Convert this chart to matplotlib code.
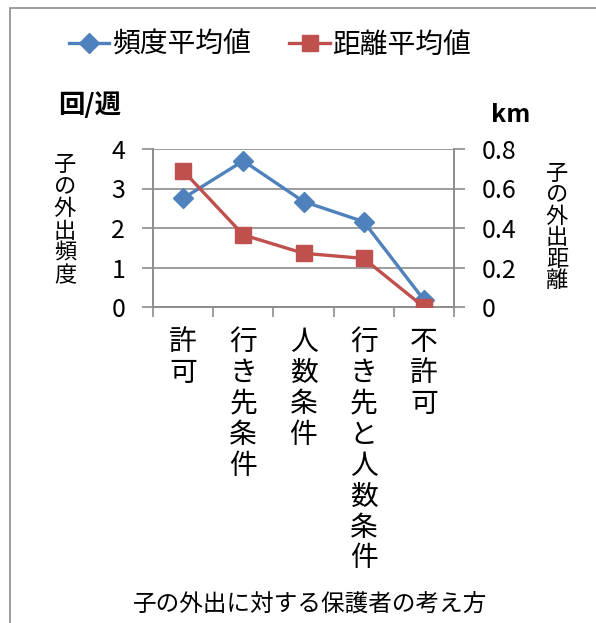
import numpy as np
import matplotlib.pyplot as plt
from matplotlib.patches import Rectangle
import matplotlib.transforms as mtransforms

plt.rcParams['font.family'] = ['Noto Sans CJK JP', 'DejaVu Sans']

# 保護者の考え方ごとの平均値
categories = ['許可', '行き先条件', '人数条件', '行き先と人数条件', '不許可']
freq_mean = [2.75, 3.70, 2.67, 2.16, 0.18]      # 回/週
dist_mean = [0.69, 0.365, 0.272, 0.246, 0.0]    # km

BLUE = '#4F81BD'
RED = '#C0504D'
GRID = '#8C8C8C'

fig = plt.figure(figsize=(5.96, 6.23), dpi=100)
fig.patches.append(Rectangle((10 / 596, -0.1), 1.2, 1 - 8 / 623 + 0.1,
                             transform=fig.transFigure, fill=False,
                             edgecolor='#8C8C8C', linewidth=1.2))

ax = fig.add_axes([153 / 596, 1 - 307 / 623, 301 / 596, 158 / 623])
ax2 = ax.twinx()

x = np.arange(len(categories))
l1, = ax.plot(x, freq_mean, color=BLUE, lw=2.4, marker='D', ms=10,
              label='頻度平均値', zorder=3)
l2, = ax2.plot(x, dist_mean, color=RED, lw=2.4, marker='s', ms=11,
               label='距離平均値', zorder=3)

ax.set_xlim(-0.5, len(categories) - 0.5)
ax.set_ylim(0, 4)
ax2.set_ylim(0, 0.8)
ax.set_yticks([0, 1, 2, 3, 4])
ax2.set_yticks([0, 0.2, 0.4, 0.6, 0.8])
ax2.set_yticklabels(['0', '0.2', '0.4', '0.6', '0.8'])
ax.set_xticks(np.arange(-0.5, len(categories)))
ax.set_xticklabels([])
ax.yaxis.grid(True, color=GRID, lw=1.2)
ax.set_axisbelow(True)

for a in (ax, ax2):
    for s in a.spines.values():
        s.set_color(GRID)
        s.set_linewidth(1.2)
    a.spines['top'].set_visible(False)
    a.tick_params(direction='out', length=8, width=1.2, color=GRID,
                  labelsize=18, pad=12)
ax.tick_params(axis='x', length=7)

# 縦書きのカテゴリ名
trans = mtransforms.blended_transform_factory(ax.transData, fig.transFigure)
for xi, name in zip(x, categories):
    ax.text(xi, 1 - 327 / 623, '\n'.join(name), transform=trans,
            ha='center', va='top', fontsize=20, linespacing=1.04)

fig.text(58 / 596, 1 - 106 / 623, '回/週', fontsize=19, fontweight='bold',
         va='center', ha='left')
fig.text(511 / 596, 1 - 115 / 623, 'km', fontsize=18, fontweight='bold',
         va='center', ha='center')
fig.text(65 / 596, 1 - 220 / 623, '\n'.join('子の外出頻度'), fontsize=16,
         ha='center', va='center', linespacing=0.95)
fig.text(557 / 596, 1 - 227 / 623, '\n'.join('子の外出距離'), fontsize=16,
         ha='center', va='center', linespacing=0.92)
fig.text(310 / 596, 1 - 604 / 623, '子の外出に対する保護者の考え方',
         fontsize=17, ha='center', va='center')

fig.legend(handles=[l1, l2], loc='center', bbox_to_anchor=(270 / 596, 1 - 45 / 623),
           ncol=2, frameon=False, fontsize=20, handlelength=1.45,
           handletextpad=0.1, columnspacing=1.4)

plt.savefig('out.png', dpi=100)
